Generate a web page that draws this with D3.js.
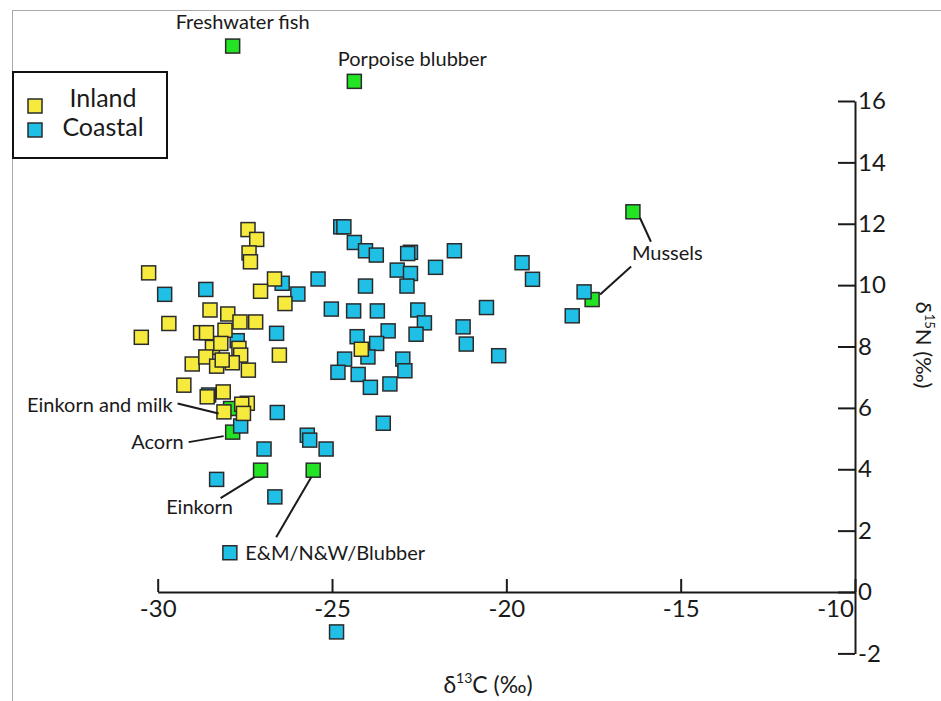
<!DOCTYPE html>
<html>
<head>
<meta charset="utf-8">
<script src="https://cdn.jsdelivr.net/npm/d3@7"></script>
<style>
    body { margin: 0; background: #fff; }
    svg { display: block; font-family: Lato, "Open Sans", sans-serif; }
    .axis path, .axis line { stroke: #1a1a1a; stroke-width: 2; }
    .axis text { font-size: 24px; fill: #1a1a1a; font-family: Lato, sans-serif; }
    .note { font-size: 20px; fill: #1a1a1a; }
</style>
</head>
<body>
<div id="chart"></div>
<script>
// d13C / d15N values
let inlandX = [-27.41, -27.16, -27.38, -27.34, -30.26, -26.65, -27.05, -26.35, -29.68, -30.47,
    -28.50, -27.99, -27.64, -27.19, -28.77, -28.60, -28.07, -28.43, -28.19, -27.67,
    -27.62, -29.01, -28.62, -28.31, -27.86, -28.15, -27.40, -29.25, -28.58, -28.12,
    -27.43, -27.59, -28.10, -27.54, -26.51, -24.16];
let inlandY = [11.81, 11.49, 11.05, 10.76, 10.40, 10.20, 9.80, 9.40, 8.75, 8.30,
    9.19, 9.06, 8.80, 8.80, 8.45, 8.45, 8.53, 7.97, 8.10, 7.94,
    7.72, 7.43, 7.66, 7.36, 7.47, 7.56, 7.23, 6.74, 6.36, 6.52,
    6.15, 6.12, 5.87, 5.82, 7.72, 7.91];

let coastalX = [-29.80, -28.62, -26.43, -25.98, -26.59, -27.72, -26.57, -27.62, -28.54, -24.75,
    -24.66, -24.36, -24.04, -23.73, -22.75, -22.83, -21.49, -22.03, -23.13, -22.75,
    -22.85, -24.04, -25.40, -25.02, -24.38, -23.70, -22.54, -22.35, -22.59, -20.57,
    -21.24, -21.15, -20.22, -19.55, -19.25, -17.77, -18.11, -23.39, -24.28, -23.72,
    -23.97, -24.64, -24.83, -24.25, -23.90, -23.34, -22.97, -22.91, -23.53, -25.71,
    -25.64, -25.17, -26.95, -28.31, -26.64, -27.93, -24.87];
let coastalY = [9.70, 9.86, 10.06, 9.71, 8.43, 8.19, 5.85, 5.41, 6.42, 11.90,
    11.90, 11.39, 11.12, 10.98, 11.07, 11.03, 11.12, 10.58, 10.49, 10.38,
    9.97, 9.97, 10.20, 9.22, 9.16, 9.16, 9.19, 8.77, 8.40, 9.27,
    8.64, 8.08, 7.70, 10.73, 10.19, 9.78, 9.00, 8.51, 8.32, 8.10,
    7.66, 7.59, 7.16, 7.09, 6.67, 6.78, 7.59, 7.21, 5.50, 5.11,
    4.95, 4.66, 4.66, 3.67, 3.10, 1.28, -1.30];

let foodNames = ["Freshwater fish", "Porpoise blubber", "Mussels", "Mussels",
    "Einkorn and milk", "Acorn", "Einkorn", "E&M/N&W/Blubber"];
let foodX = [-27.85, -24.36, -16.37, -17.54, -27.91, -27.85, -27.05, -25.54];
let foodY = [17.79, 16.64, 12.39, 9.53, 5.98, 5.21, 3.97, 3.97];

let xTicks = [-30, -25, -20, -15, -10];
let yTicks = [-2, 0, 2, 4, 6, 8, 10, 12, 14, 16];

let legendNames = ["Inland", "Coastal"];

// label placement for the food points (pixel offsets from the point)
let noteLayout = [
    { anchor: "middle", dx: 10, dy: -24, lines: [] },
    { anchor: "middle", dx: 58, dy: -22, lines: [] },
    { anchor: "start", dx: -1, dy: 41, lines: [[7, 6, 18, 30]] },
    { anchor: null, lines: [[8, -5, 39, -33]] },
    { anchor: "end", dx: -58, dy: -4, lines: [[-53, -5, -12, 5]] },
    { anchor: "end", dx: -49, dy: 10, lines: [[-44, 10, -9, 4]] },
    { anchor: "middle", dx: -61, dy: 37, lines: [[-40, 28, -6, 7]] },
    { anchor: "start", dx: -68, dy: 83, lines: [[-37, 67, -2, 7]] }
];

const colors = { inland: "#f6ea3c", coastal: "#1fbfe6", food: "#22e324" };
const width = 941, height = 701;
const size = 14;

let svg = d3.select("#chart").append("svg")
    .attr("width", width)
    .attr("height", height);

// frame of the original figure
svg.append("line").attr("x1", 12).attr("x2", width).attr("y1", 10.5).attr("y2", 10.5)
    .attr("stroke", "#aaa").attr("stroke-width", 1);
svg.append("line").attr("x1", 12.5).attr("x2", 12.5).attr("y1", 10).attr("y2", height)
    .attr("stroke", "#aaa").attr("stroke-width", 1);

let x = d3.scaleLinear().domain([-30, -10]).range([157.7, 855]);
let y = d3.scaleLinear().domain([-2, 16]).range([653.4, 101]);

// x axis sits on y = 0, ticks pointing up
let xAxis = d3.axisBottom(x)
    .tickValues(xTicks)
    .tickSizeInner(-13)
    .tickSizeOuter(0)
    .tickPadding(8)
    .tickFormat(d => String(d));

let gx = svg.append("g")
    .attr("class", "axis")
    .attr("transform", "translate(0," + y(0) + ")")
    .call(xAxis);
gx.selectAll(".tick text").filter(d => d === -10).attr("dx", -20);

// y axis sits on x = -10, ticks pointing left
let yAxis = d3.axisRight(y)
    .tickValues(yTicks)
    .tickSizeInner(-17)
    .tickSizeOuter(0)
    .tickPadding(3)
    .tickFormat(d => String(d));

svg.append("g")
    .attr("class", "axis")
    .attr("transform", "translate(" + x(-10) + ",0)")
    .call(yAxis);

svg.selectAll(".axis .domain").attr("fill", "none");

// axis titles
let xt = svg.append("text")
    .attr("x", 488)
    .attr("y", 693)
    .attr("text-anchor", "middle")
    .attr("font-size", 23)
    .attr("fill", "#1a1a1a");
xt.append("tspan").text("δ");
xt.append("tspan").attr("font-size", 14).attr("dy", -10).text("13");
xt.append("tspan").attr("dy", 10).text("C (‰)");

let yt = svg.append("text")
    .attr("transform", "translate(916,345) rotate(90)")
    .attr("text-anchor", "middle")
    .attr("font-size", 22)
    .attr("fill", "#1a1a1a");
yt.append("tspan").text("δ");
yt.append("tspan").attr("font-size", 13).attr("dy", -9).text("15");
yt.append("tspan").attr("dy", 9).text("N (‰)");

// points
function drawSquares(xs, ys, fill, cls) {
    svg.append("g").attr("class", cls)
        .selectAll("rect")
        .data(xs.map((v, i) => ({ x: v, y: ys[i] })))
        .enter()
        .append("rect")
        .attr("x", d => x(d.x) - size / 2)
        .attr("y", d => y(d.y) - size / 2)
        .attr("width", size)
        .attr("height", size)
        .attr("fill", fill)
        .attr("stroke", "#2b2b2b")
        .attr("stroke-width", 1.5);
}

drawSquares(foodX, foodY, colors.food, "food");
drawSquares(coastalX, coastalY, colors.coastal, "coastal");
drawSquares(inlandX, inlandY, colors.inland, "inland");

// food annotations
let notes = svg.append("g");
foodNames.forEach(function(name, i) {
    let lay = noteLayout[i];
    let px = x(foodX[i]), py = y(foodY[i]);
    lay.lines.forEach(function(l) {
        notes.append("line")
            .attr("x1", px + l[0]).attr("y1", py + l[1])
            .attr("x2", px + l[2]).attr("y2", py + l[3])
            .attr("stroke", "#1a1a1a")
            .attr("stroke-width", 2);
    });
    if (lay.anchor) {
        notes.append("text")
            .attr("class", "note")
            .attr("x", px + lay.dx)
            .attr("y", py + lay.dy)
            .attr("dy", "0.35em")
            .attr("text-anchor", lay.anchor)
            .text(name);
    }
});

// legend
let legend = svg.append("g");
legend.append("rect")
    .attr("x", 13).attr("y", 72)
    .attr("width", 154).attr("height", 86)
    .attr("fill", "#fff")
    .attr("stroke", "#111")
    .attr("stroke-width", 2);

legendNames.forEach(function(name, i) {
    legend.append("rect")
        .attr("x", 28).attr("y", 99 + i * 24)
        .attr("width", size).attr("height", size)
        .attr("fill", i === 0 ? colors.inland : colors.coastal)
        .attr("stroke", "#2b2b2b")
        .attr("stroke-width", 1.5);
    legend.append("text")
        .attr("x", 103)
        .attr("y", 107 + i * 29)
        .attr("text-anchor", "middle")
        .attr("font-size", 25)
        .attr("fill", "#1a1a1a")
        .text(name);
});
</script>
</body>
</html>
